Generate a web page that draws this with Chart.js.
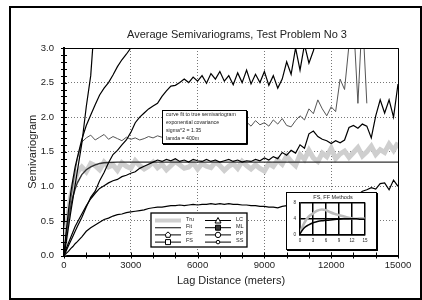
<!DOCTYPE html>
<html>
<head>
<meta charset="utf-8">
<script src="https://cdn.jsdelivr.net/npm/chart.js@4.4.1/dist/chart.umd.min.js"></script>
<style>
  html, body { margin: 0; padding: 0; background: #fff; overflow: hidden; }
  #frame { position: absolute; left: 9px; top: 6px; width: 409px; height: 290px; border: 2px solid #000; }
  #main { position: absolute; left: 0; top: 0; }
  #insetBox { position: absolute; left: 286px; top: 192px; width: 89px; height: 56px; border: 1px solid #000; background: #fff; box-shadow: 1px 1px 0 #000; }
  #inset { display: block; }
</style>
</head>
<body>
<div id="frame"></div>
<canvas id="main" width="422" height="300"></canvas>
<div id="insetBox"><canvas id="inset" width="89" height="56"></canvas></div>
<script>
// lag distances (m): fine steps near the origin, then every 200 m
const lag = [0, 100, 200, 300, 400, 500].concat(Array.from({ length: 73 }, (_, i) => 600 + 200 * i));

const fitLag = [0, 100, 200, 300, 400, 500, 600, 800, 1000, 1200, 1400, 1600, 1800, 2000, 2400, 15000];
const fit = [0, 0.30, 0.53, 0.71, 0.85, 0.96, 1.05, 1.17, 1.24, 1.28, 1.31, 1.33, 1.34, 1.345, 1.35, 1.35];

const tru = [0, 0.35, 0.62, 0.85, 1.0, 1.1,
  1.20, 1.28, 1.21, 1.33, 1.30, 1.24, 1.35, 1.28, 1.31, 1.23,
  1.34, 1.29, 1.26, 1.37, 1.30, 1.25, 1.29, 1.35, 1.27, 1.32,
  1.24, 1.30, 1.36, 1.31, 1.26, 1.28, 1.34, 1.25, 1.33, 1.29,
  1.27, 1.35, 1.30, 1.23, 1.29, 1.33, 1.26, 1.36, 1.30, 1.25,
  1.31, 1.26, 1.22, 1.33, 1.29, 1.38, 1.32, 1.44, 1.36, 1.30,
  1.46, 1.39, 1.52, 1.41, 1.36, 1.48, 1.43, 1.55, 1.40, 1.47,
  1.51, 1.42, 1.49, 1.56, 1.44, 1.50, 1.58, 1.46, 1.53, 1.49,
  1.61, 1.52, 1.63];

const lc = [0, 0.2, 0.41, 0.62, 0.82, 1.02, 1.22, 1.62, 2.15, 2.6, 3.5];

const ml = [0, 0.35, 0.65, 0.9, 1.1, 1.28,
  1.42, 1.68, 1.88, 2.03, 2.18, 2.32, 2.42, 2.5, 2.61, 2.73,
  2.83, 2.91, 3.0, 3.08];

const pp = [0, 0.07, 0.14, 0.21, 0.28, 0.35,
  0.42, 0.55, 0.70, 0.84, 0.93, 1.08, 1.20, 1.34, 1.46, 1.52,
  1.60, 1.67, 1.78, 1.92, 2.00, 2.06, 2.12, 2.16, 2.20, 2.30,
  2.38, 2.45, 2.46, 2.50, 2.55, 2.50, 2.58, 2.52, 2.60, 2.49,
  2.63, 2.55, 2.66, 2.52, 2.60, 2.47, 2.64, 2.50, 2.68, 2.48,
  2.62, 2.50, 2.66, 2.46, 2.60, 2.42, 2.55, 2.80, 2.62, 3.00,
  2.68, 3.05, 2.78, 2.96, 3.20, 3.40, 3.50];

const ss = [0, 0.28, 0.55, 0.80, 1.02, 1.22,
  1.40, 1.64, 1.70, 1.74, 1.67, 1.71, 1.75, 1.68, 1.72, 1.69,
  1.66, 1.71, 1.68, 1.70, 1.67, 1.69, 1.72, 1.70, 1.73, 1.71,
  1.75, 1.72, 1.76, 1.74, 1.78, 1.75, 1.79, 1.77, 1.80, 1.78,
  1.83, 1.79, 1.85, 1.82, 1.88, 1.84, 1.90, 1.86, 1.93, 1.87,
  1.95, 1.89, 1.92, 1.87, 1.96, 1.90, 1.98, 1.88, 1.86, 1.95,
  2.02, 1.96, 2.12, 2.05, 2.25, 2.12, 2.02, 2.15, 2.08, 2.55,
  2.40, 3.05, 3.40, 2.20, 3.50, 2.20];

const ff = [0, 0.10, 0.18, 0.26, 0.34, 0.42,
  0.48, 0.60, 0.72, 0.82, 0.90, 0.97, 1.01, 1.05, 1.08, 1.10,
  1.14, 1.16, 1.19, 1.21, 1.26, 1.29, 1.32, 1.35, 1.38, 1.36,
  1.39, 1.37, 1.40, 1.36, 1.38, 1.35, 1.39, 1.37, 1.36, 1.39,
  1.36, 1.38, 1.35, 1.37, 1.39, 1.36, 1.38, 1.35, 1.37, 1.36,
  1.39, 1.37, 1.41, 1.38, 1.43, 1.40, 1.49, 1.45, 1.52, 1.48,
  1.60, 1.55, 1.76, 1.80, 1.72, 1.68, 1.66, 1.62, 1.66, 1.63,
  1.67, 1.85, 1.88, 1.84, 1.90, 1.87, 1.70, 2.02, 2.25, 2.06,
  2.25, 2.00, 2.48];

const fs = [0, 0.03, 0.06, 0.10, 0.13, 0.17,
  0.20, 0.27, 0.35, 0.40, 0.44, 0.48, 0.52, 0.54, 0.57, 0.59,
  0.60, 0.62, 0.63, 0.64, 0.65, 0.66, 0.68, 0.69, 0.70, 0.70,
  0.71, 0.72, 0.72, 0.73, 0.72, 0.73, 0.74, 0.73, 0.74, 0.74,
  0.75, 0.74, 0.75, 0.74, 0.75, 0.74, 0.74, 0.73, 0.73, 0.72,
  0.72, 0.71, 0.71, 0.70, 0.70, 0.69, 0.71, 0.72, 0.71, 0.74,
  0.76, 0.78, 0.79, 0.81, 0.80, 0.83, 0.85, 0.84, 0.87, 0.86,
  0.88, 0.87, 0.90, 0.88, 0.93, 0.95, 0.98, 0.96, 1.04, 1.05,
  0.95, 1.09, 1.00];

// inset: FS, FF methods (lag in km)
const insetLag = [0, 1, 2, 3, 4, 5, 6, 7, 8, 9, 10, 11, 12, 13, 14, 15];
const insetFS = [0.5, 3.0, 4.5, 5.3, 6.0, 6.3, 6.1, 5.6, 5.2, 4.9, 4.6, 4.3, 4.1, 4.0, 4.1, 4.0];
const insetFF = [0.3, 1.8, 2.5, 3.0, 3.3, 3.5, 3.6, 3.7, 3.8, 3.9, 4.0, 4.0, 4.0, 4.0, 3.9, 3.9];

const yTicks = [0, 0.5, 1, 1.5, 2, 2.5, 3];
const xTicks = [0, 3000, 6000, 9000, 12000, 15000];
const noteLines = ['curve fit to true semivariogram', 'exponential covariance', 'sigma^2 = 1.35', 'lamda = 400m'];

const family = "'Liberation Sans', Arial, sans-serif";
Chart.defaults.font.family = family;
Chart.defaults.color = '#222';

const pts = (xs, ys) => ys.map((v, i) => ({ x: xs[i], y: v }));
const line = (label, xs, ys, color, width) => ({
  label, data: pts(xs, ys), borderColor: color, borderWidth: width,
  pointRadius: 0, tension: 0, fill: false,
});

function marker(ctx, kind, cx, cy) {
  ctx.beginPath();
  if (kind === 'square' || kind === 'filled') ctx.rect(cx - 2.5, cy - 2.5, 5, 5);
  else if (kind === 'triangle') { ctx.moveTo(cx, cy - 3); ctx.lineTo(cx + 3, cy + 2.5); ctx.lineTo(cx - 3, cy + 2.5); ctx.closePath(); }
  else if (kind === 'circle') ctx.arc(cx, cy, 2.7, 0, Math.PI * 2);
  else if (kind === 'small') ctx.arc(cx, cy, 1.8, 0, Math.PI * 2);
  else if (kind === 'house') { ctx.moveTo(cx, cy - 3); ctx.lineTo(cx + 2.6, cy - 0.6); ctx.lineTo(cx + 2, cy + 2.4); ctx.lineTo(cx - 2, cy + 2.4); ctx.lineTo(cx - 2.6, cy - 0.6); ctx.closePath(); }
  ctx.fillStyle = kind === 'filled' ? '#333' : '#fff';
  ctx.fill();
  ctx.lineWidth = 1;
  ctx.strokeStyle = '#000';
  ctx.stroke();
}

const legendItems = [
  { label: 'Tru', col: 0, row: 0, color: '#cfcfcf', width: 4 },
  { label: 'Fit', col: 0, row: 1, color: '#333', width: 1.2 },
  { label: 'FF', col: 0, row: 2, color: '#000', width: 1, mark: 'house' },
  { label: 'FS', col: 0, row: 3, color: '#000', width: 1, mark: 'square' },
  { label: 'LC', col: 1, row: 0, color: '#000', width: 1, mark: 'triangle' },
  { label: 'ML', col: 1, row: 1, color: '#000', width: 1, mark: 'filled' },
  { label: 'PP', col: 1, row: 2, color: '#000', width: 1, mark: 'circle' },
  { label: 'SS', col: 1, row: 3, color: '#000', width: 1, mark: 'small' },
];

const decor = {
  id: 'decor',
  afterDatasetsDraw(chart) {
    const { ctx, chartArea: a, scales: { x, y } } = chart;
    ctx.save();
    ctx.strokeStyle = '#000';
    ctx.lineWidth = 1;
    ctx.beginPath();
    ctx.moveTo(a.left, a.top + 0.5); ctx.lineTo(a.right + 0.5, a.top + 0.5);
    ctx.lineTo(a.right + 0.5, a.bottom);
    // minor ticks crossing the axes
    for (let i = 0; i <= 30; i++) {
      const py = Math.round(y.getPixelForValue(i / 10)) + 0.5;
      ctx.moveTo(a.left - 3, py); ctx.lineTo(a.left + 3, py);
    }
    for (let i = 0; i <= 15; i++) {
      const px = Math.round(x.getPixelForValue(i * 1000)) + 0.5;
      ctx.moveTo(px, a.bottom - 3); ctx.lineTo(px, a.bottom + 3);
    }
    ctx.stroke();

    // title
    ctx.fillStyle = '#222';
    ctx.font = '11px ' + family;
    ctx.textAlign = 'center';
    ctx.textBaseline = 'middle';
    ctx.fillText('Average Semivariograms, Test Problem No 3', 237, 35);

    // note box
    ctx.fillStyle = '#fff';
    ctx.fillRect(162, 110, 84, 33);
    ctx.strokeStyle = '#000';
    ctx.strokeRect(162.5, 110.5, 84, 33);
    ctx.beginPath();
    ctx.moveTo(247.5, 111); ctx.lineTo(247.5, 144.5); ctx.lineTo(163, 144.5);
    ctx.stroke();
    ctx.fillStyle = '#222';
    ctx.font = '5.2px ' + family;
    ctx.textAlign = 'left';
    noteLines.forEach((t, i) => ctx.fillText(t, 166, 115 + i * 7.8));

    // legend box
    ctx.fillStyle = '#fff';
    ctx.fillRect(151, 213, 96, 34);
    ctx.lineWidth = 1.3;
    ctx.strokeRect(151, 213, 96, 34);
    legendItems.forEach(it => {
      const ly = 220.5 + it.row * 7.2;
      const x0 = it.col === 0 ? 155 : 205;
      ctx.beginPath();
      ctx.moveTo(x0, ly); ctx.lineTo(x0 + 26, ly);
      ctx.strokeStyle = it.color;
      ctx.lineWidth = it.width;
      ctx.stroke();
      if (it.mark) marker(ctx, it.mark, x0 + 13, ly);
      ctx.fillStyle = '#222';
      ctx.font = '5.5px ' + family;
      ctx.fillText(it.label, x0 + 31, ly - 1.5);
    });
    ctx.restore();
  },
};

new Chart(document.getElementById('main'), {
  type: 'line',
  data: {
    datasets: [
      line('LC', lag, lc, '#000', 1.2),
      line('ML', lag, ml, '#000', 1.2),
      line('PP', lag, pp, '#000', 1.2),
      line('SS', lag, ss, '#555', 1),
      line('FF', lag, ff, '#000', 1.2),
      line('FS', lag, fs, '#000', 1.2),
      line('Fit', fitLag, fit, '#333', 1.4),
      line('Tru', lag, tru, '#cfcfcf', 5),
    ],
  },
  options: {
    responsive: false,
    animation: false,
    events: [],
    layout: { padding: { top: 48, right: 24, left: 0, bottom: 0 } },
    plugins: { legend: { display: false }, tooltip: { enabled: false } },
    scales: {
      x: {
        type: 'linear', min: 0, max: 15000,
        afterFit: s => { s.height = 44.5; },
        afterBuildTicks: s => { s.ticks = xTicks.map(v => ({ value: v })); },
        ticks: { font: { size: 9.5 }, padding: 4, maxRotation: 0, callback: v => String(v) },
        grid: { color: '#777', drawTicks: false },
        border: { color: '#000', width: 2, dash: [1, 2] },
        title: { display: true, text: 'Lag Distance (meters)', font: { size: 11 }, padding: { top: 0, bottom: 12.4 } },
      },
      y: {
        min: 0, max: 3,
        afterFit: s => { s.width = 64; },
        afterBuildTicks: s => { s.ticks = yTicks.map(v => ({ value: v })); },
        ticks: { font: { size: 9.5 }, padding: 10, callback: v => v.toFixed(1) },
        grid: { color: '#777', drawTicks: false },
        border: { color: '#000', width: 2, dash: [1, 2] },
        title: { display: true, text: 'Semivariogram', font: { size: 11 }, padding: { top: 26, bottom: 0 } },
      },
    },
  },
  plugins: [decor],
});

const insetTitle = {
  id: 'insetTitle',
  afterDraw(chart) {
    const { ctx } = chart;
    ctx.save();
    ctx.fillStyle = '#222';
    ctx.font = '5.5px ' + family;
    ctx.textAlign = 'center';
    ctx.textBaseline = 'middle';
    ctx.fillText('FS, FF Methods', 46, 4.8);
    ctx.restore();
  },
};

new Chart(document.getElementById('inset'), {
  type: 'line',
  data: {
    datasets: [
      { data: pts(insetLag, insetFF), borderColor: '#000', borderWidth: 1.5, pointRadius: 0, tension: 0.4 },
      { data: pts(insetLag, insetFS), borderColor: '#bbb', borderWidth: 2.5, pointRadius: 0, tension: 0.4 },
    ],
  },
  options: {
    responsive: false,
    animation: false,
    events: [],
    layout: { padding: { top: 9.5, right: 11, left: 0, bottom: 0 } },
    plugins: { legend: { display: false }, tooltip: { enabled: false } },
    scales: {
      x: {
        type: 'linear', min: 0, max: 15,
        afterFit: s => { s.height = 14; },
        ticks: { stepSize: 3, font: { size: 4.5 }, padding: 3, maxRotation: 0 },
        grid: { color: '#000', lineWidth: 1.5, drawTicks: false },
        border: { color: '#000', width: 1.5 },
      },
      y: {
        min: 0, max: 8,
        afterFit: s => { s.width = 13; },
        ticks: { stepSize: 2, font: { size: 4.5 }, padding: 4 },
        grid: { color: '#000', lineWidth: 1.5, drawTicks: false },
        border: { color: '#000', width: 1.5 },
      },
    },
  },
  plugins: [insetTitle],
});
</script>
</body>
</html>
